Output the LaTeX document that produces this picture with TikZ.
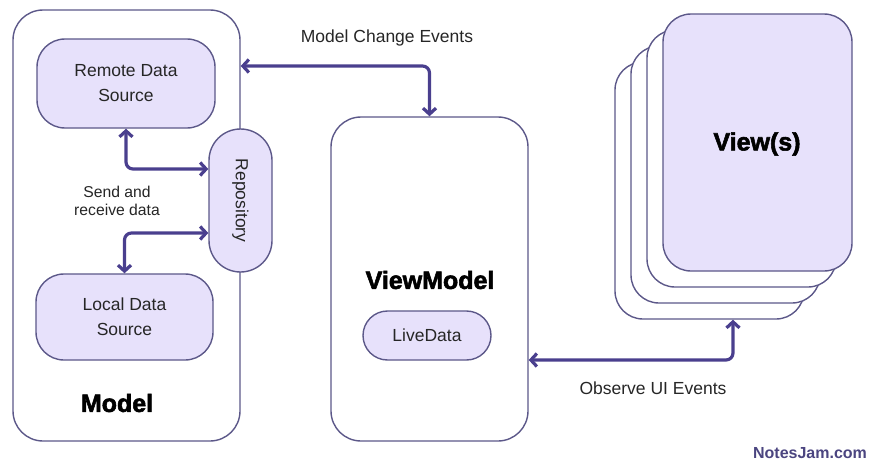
\documentclass[tikz,border=0pt]{standalone}
\usepackage{fontspec}
\setmainfont{Liberation Sans}
\newfontfamily\heavyfont{Liberation Sans}[UprightFont={* Bold},UprightFeatures={FakeBold=2.2}]
\usetikzlibrary{arrows.meta}
\definecolor{edge}{HTML}{5C5889}
\definecolor{lav}{HTML}{E7E1FB}
\definecolor{wire}{HTML}{4A3F8E}
\definecolor{ink}{HTML}{262626}
\definecolor{brand}{HTML}{4B4580}
\begin{document}
\begin{tikzpicture}[x=1pt,y=-1pt,
  panel/.style={draw=edge,line width=1.4pt,fill=white,rounded corners=30pt,inner sep=0pt},
  pill/.style={draw=edge,line width=1.4pt,fill=lav,inner sep=0pt,align=center,
    font=\fontsize{17.5}{25}\selectfont,text=ink},
  link/.style={draw=wire,line width=3.2pt,rounded corners=7pt,
    {Straight Barb[length=6pt,width=13pt]}-{Straight Barb[length=6pt,width=13pt]}},
  label/.style={text=ink,font=\fontsize{17.5}{21}\selectfont,inner sep=0pt},
  heading/.style={text=black,font=\heavyfont\fontsize{25}{30}\selectfont,inner sep=0pt}]
\useasboundingbox (0,0) rectangle (871,463);

% Model layer
\node[panel,minimum width=227pt,minimum height=431pt] (model) at (126.5,225.5) {};
\node[pill,rounded corners=28pt,minimum width=178pt,minimum height=89pt] (remote) at (126,83.5) {Remote Data\\Source};
\node[pill,rounded corners=28pt,minimum width=177pt,minimum height=86pt] (local) at (124.5,317) {Local Data\\Source};
\node[pill,rounded corners=31.5pt,minimum width=63pt,minimum height=143pt] (repo) at (240.5,200.5) {};
\node[label,rotate=-90] (repotext) at (repo.center) {Repository};
\node[heading] (modeltitle) at (117,403) {Model};
\node[label,align=center,font=\fontsize{15.7}{17.5}\selectfont] (sendtext) at (117,201) {Send and\\receive data};

% ViewModel layer
\node[panel,minimum width=197pt,minimum height=324pt] (vm) at (429.5,279) {};
\node[heading] (vmtitle) at (430,280) {ViewModel};
\node[pill,rounded corners=24.5pt,minimum width=128pt,minimum height=49pt] (live) at (427,335.5) {LiveData};

% stacked views
\foreach \i/\cx/\cy in {4/709.5/190.5,3/725.5/174.5,2/741.5/158.5}
  \node[panel,rounded corners=28pt,minimum width=189pt,minimum height=257pt] (card\i) at (\cx,\cy) {};
\node[pill,rounded corners=28pt,minimum width=189pt,minimum height=257pt] (view) at (757.5,142.5) {};
\node[heading] (viewtitle) at (757,144) {View(s)};

% connectors
\draw[link] (model.east |- 0,66) -| (vm.north);
\draw[link] (remote.south) |- (repo.west |- 0,169);
\draw[link] (local.north) |- (repo.west |- 0,233);
\draw[link] (vm.east |- 0,360) -| ([xshift=23.5pt]card4.south);

% labels
\node[label] (mcelabel) at (387,38) {Model Change Events};
\node[label] (obslabel) at (653,388) {Observe UI Events};
\node[text=brand,font=\bfseries\fontsize{16}{19}\selectfont,inner sep=0pt] (brandmark) at (810,453) {NotesJam.com};
\end{tikzpicture}
\end{document}
